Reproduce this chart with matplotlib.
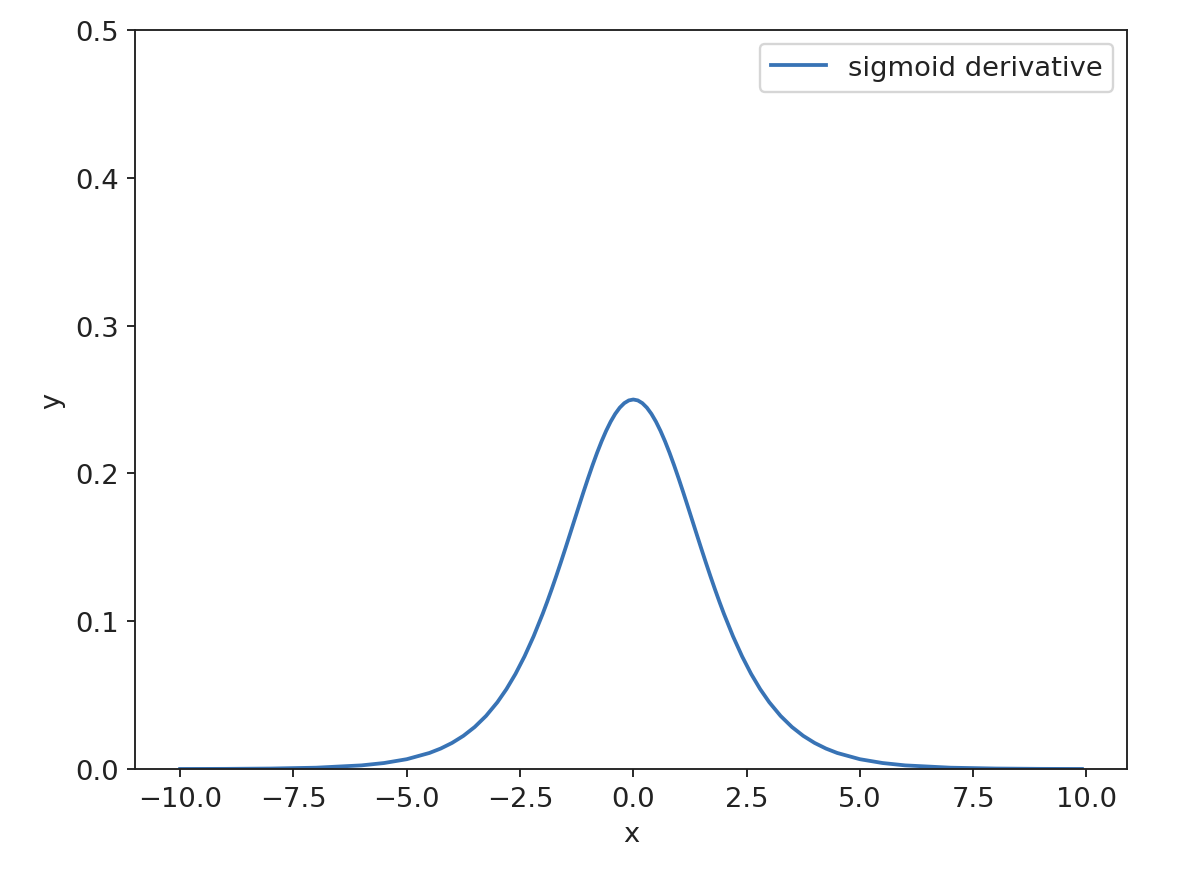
import matplotlib
matplotlib.use('Agg')
import matplotlib.pyplot as plt

# Sigmoid derivative values
x_vals = [-10.0, -9.0, -8.0, -7.0, -6.0, -5.5, -5.0, -4.5, -4.25, -4.0, -3.75, -3.5, -3.25,
          -3.0, -2.8, -2.6, -2.4, -2.2,
          -2.0, -1.9, -1.8, -1.7, -1.6, -1.5, -1.4, -1.3, -1.2, -1.1,
          -1.0, -0.9, -0.8, -0.7, -0.6, -0.5, -0.4, -0.3, -0.2, -0.1,
          0.0, 0.1, 0.2, 0.3, 0.4, 0.5, 0.6, 0.7, 0.8, 0.9,
          1.0, 1.1, 1.2, 1.3, 1.4, 1.5, 1.6, 1.7, 1.8, 1.9,
          2.0, 2.2, 2.4, 2.6, 2.8,
          3.0, 3.25, 3.5, 3.75, 4.0, 4.25, 4.5, 5.0, 5.5, 6.0, 7.0, 8.0, 9.0, 9.9]
y_vals = [0.00005, 0.00012, 0.00034, 0.00091, 0.00247, 0.00407, 0.00665, 0.01087, 0.01387,
          0.01767, 0.02245, 0.02845, 0.03593,
          0.04518, 0.05404, 0.06436, 0.07626, 0.08980,
          0.10499, 0.11318, 0.12173, 0.13061, 0.13976, 0.14915, 0.15869, 0.16830, 0.17789, 0.18737,
          0.19661, 0.20550, 0.21391, 0.22171, 0.22878, 0.23500, 0.24026, 0.24446, 0.24752, 0.24938,
          0.25000, 0.24938, 0.24752, 0.24446, 0.24026, 0.23500, 0.22878, 0.22171, 0.21391, 0.20550,
          0.19661, 0.18737, 0.17789, 0.16830, 0.15869, 0.14915, 0.13976, 0.13061, 0.12173, 0.11318,
          0.10499, 0.08980, 0.07626, 0.06436, 0.05404,
          0.04518, 0.03593, 0.02845, 0.02245, 0.01767, 0.01387, 0.01087, 0.00665, 0.00407,
          0.00247, 0.00091, 0.00034, 0.00012, 0.00005]

dpi = 170
plt.rcParams['font.size'] = 11.6
plt.rcParams['text.color'] = '#222222'
plt.rcParams['xtick.color'] = '#222222'
plt.rcParams['ytick.color'] = '#222222'
plt.rcParams['axes.edgecolor'] = '#222222'
plt.rcParams['axes.labelcolor'] = '#222222'

fig = plt.figure(figsize=(1192 / dpi, 870 / dpi), dpi=dpi)
ax = fig.add_axes([0.1133, 0.1149, 0.8322, 0.8495])

ax.plot(x_vals, y_vals, color='#3873b5', linewidth=1.6, label='sigmoid derivative')
ax.set_ylim(0, 0.5)
ax.set_xlabel('x')
ax.set_ylabel('y')
ax.legend(loc='upper right')

fig.savefig('out.png', dpi=dpi)
